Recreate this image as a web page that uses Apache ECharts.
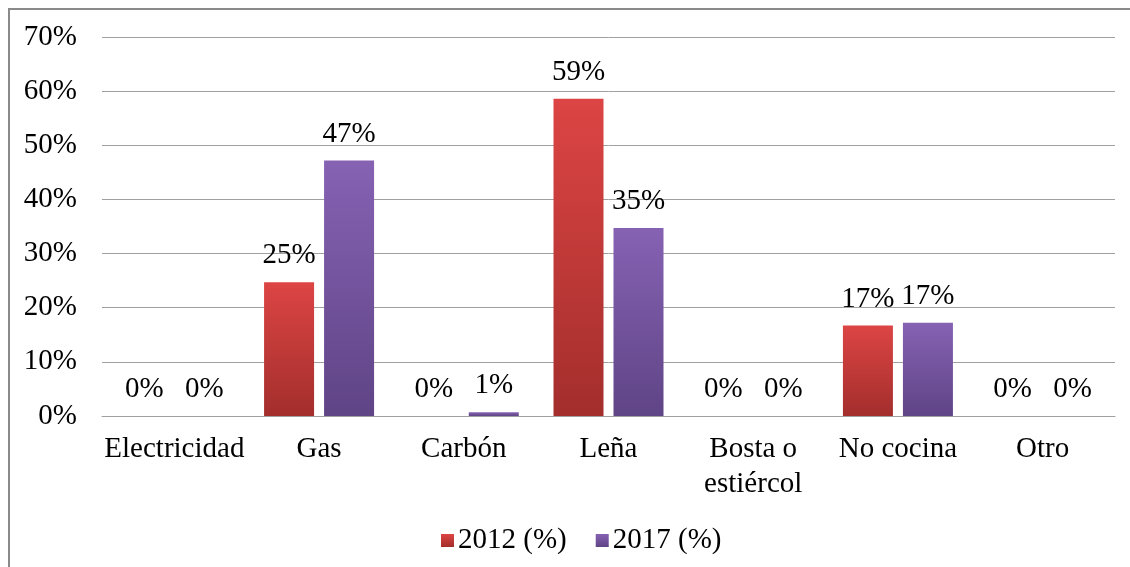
<!DOCTYPE html>
<html>
<head>
<meta charset="utf-8">
<script src="https://cdn.jsdelivr.net/npm/echarts@6/dist/echarts.min.js"></script>
<style>
  html, body { margin: 0; padding: 0; background: #fff; }
  #frame { position: absolute; left: 8px; top: 8px; width: 1130px; height: 570px;
           border-left: 2px solid #8a8a8a; border-top: 2px solid #8a8a8a; }
  #chart { position: absolute; left: 0; top: 0; width: 1130px; height: 567px; }
</style>
</head>
<body>
<div id="frame"></div>
<div id="chart"></div>
<script>
var categories = ['Electricidad', 'Gas', 'Carbón', 'Leña', 'Bosta o\nestiércol', 'No cocina', 'Otro'];
var values2012 = [0, 24.7, 0, 58.6, 0, 16.7, 0];
var values2017 = [0, 47.2, 0.7, 34.7, 0, 17.2, 0];
var yTicks = [0, 70, 10]; // min, max, interval

var fontFamily = '"Liberation Serif", "Times New Roman", serif';

function barColor(top, bottom) {
    return new echarts.graphic.LinearGradient(0, 0, 0, 1, [
        { offset: 0, color: top },
        { offset: 1, color: bottom }
    ]);
}

var labelOpt = {
    show: true,
    position: 'top',
    distance: 12,
    color: '#000',
    fontSize: 29,
    fontFamily: fontFamily,
    formatter: function (p) { return Math.round(p.value) + '%'; }
};

var myChart = echarts.init(document.getElementById('chart'));
var option = {
    animation: false,
    textStyle: { fontFamily: fontFamily },
    grid: { left: 102, right: 15, top: 37, bottom: 151 },
    legend: {
        left: 436,
        top: 521,
        icon: 'rect',
        itemWidth: 13,
        itemHeight: 13,
        itemGap: 29,
        textStyle: { fontSize: 29, color: '#000', fontFamily: fontFamily, padding: [0, 0, 0, -1] },
        data: ['2012 (%)', '2017 (%)']
    },
    xAxis: {
        type: 'category',
        data: categories,
        axisTick: { show: false },
        axisLine: { lineStyle: { color: '#a0a0a0', width: 1 } },
        axisLabel: { color: '#000', fontSize: 29, lineHeight: 35, margin: 16, interval: 0 }
    },
    yAxis: {
        type: 'value',
        min: yTicks[0],
        max: yTicks[1],
        interval: yTicks[2],
        axisLine: { show: false },
        axisTick: { show: false },
        splitLine: { lineStyle: { color: '#a0a0a0', width: 1 } },
        axisLabel: { color: '#000', fontSize: 29, margin: 25, formatter: '{value}%' }
    },
    series: [{
        name: '2012 (%)',
        type: 'bar',
        data: values2012,
        barWidth: 50,
        barGap: '20%',
        itemStyle: { color: barColor('#dc4544', '#a32e2c') },
        label: labelOpt
    }, {
        name: '2017 (%)',
        type: 'bar',
        data: values2017,
        barWidth: 50,
        itemStyle: { color: barColor('#8662b3', '#5f4486') },
        label: labelOpt
    }]
};
myChart.setOption(option);
</script>
</body>
</html>
